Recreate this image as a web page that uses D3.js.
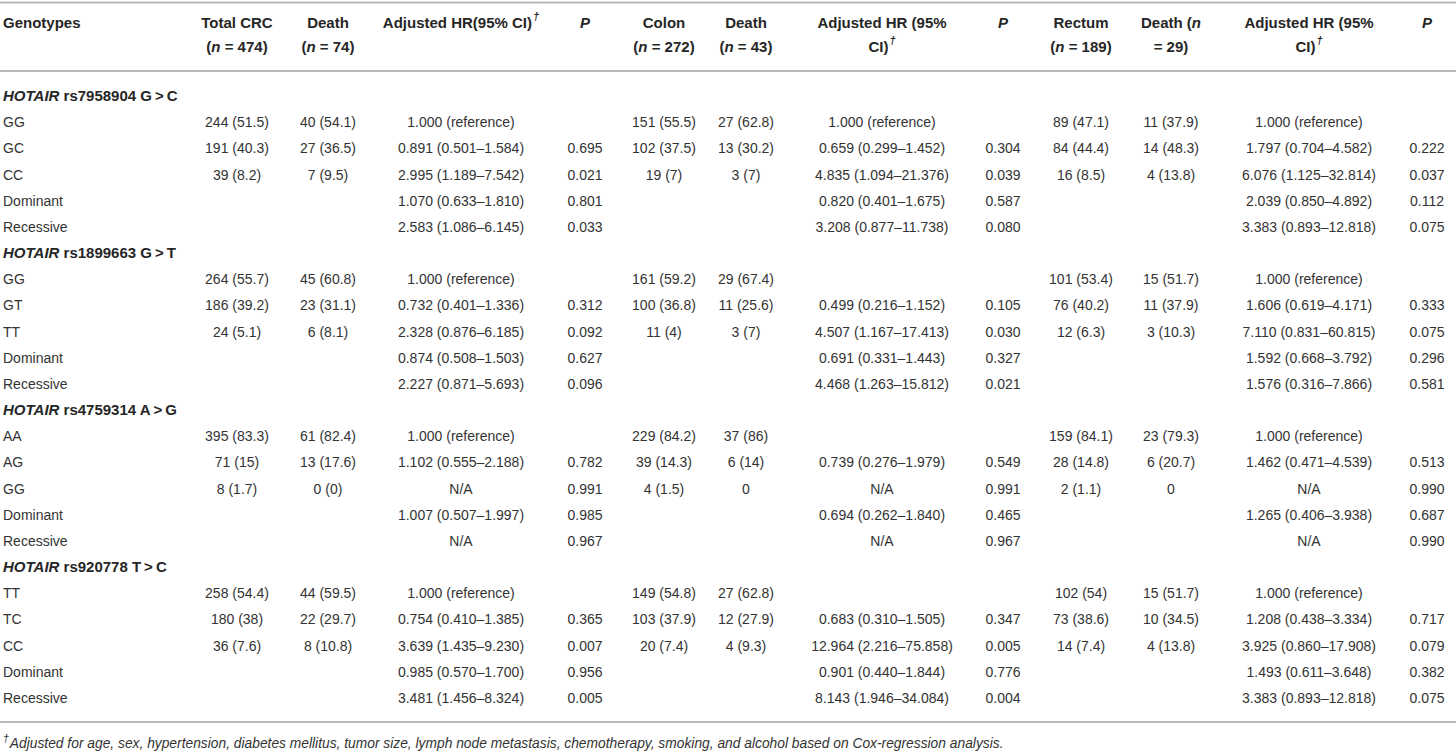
<!DOCTYPE html>
<html lang="en">
<head>
  <meta charset="UTF-8">
  <title>HOTAIR genotypes and CRC survival</title>
  <style>
    body { margin: 0; background: #fff; }
    svg { display: block; }
    text { font-family: "Liberation Sans", Arial, sans-serif; fill: #262626; }
    .hdr { font-weight: bold; font-size: 15px; }
    .cell { font-size: 14px; fill: #333; }
    .sec { font-weight: bold; font-size: 15px; }
    .note { font-style: italic; font-size: 13.8px; fill: #333; }
    .rule { stroke: #b8b8b8; stroke-width: 2px; }
  </style>
</head>
<body>
  <script src="https://d3js.org/d3.v7.min.js"></script>
  <script>
    // ---- data ----
    const sectionGene = "HOTAIR";
    const sectionSnps = ["rs7958904 G\u2009>\u2009C", "rs1899663 G\u2009>\u2009T", "rs4759314 A\u2009>\u2009G", "rs920778 T\u2009>\u2009C"];
    const rowLabels = [
      ["GG", "GC", "CC", "Dominant", "Recessive"],
      ["GG", "GT", "TT", "Dominant", "Recessive"],
      ["AA", "AG", "GG", "Dominant", "Recessive"],
      ["TT", "TC", "CC", "Dominant", "Recessive"]
    ];

    const totalCRC = ["244 (51.5)", "191 (40.3)", "39 (8.2)", "", "",
                      "264 (55.7)", "186 (39.2)", "24 (5.1)", "", "",
                      "395 (83.3)", "71 (15)", "8 (1.7)", "", "",
                      "258 (54.4)", "180 (38)", "36 (7.6)", "", ""];
    const deathAll = ["40 (54.1)", "27 (36.5)", "7 (9.5)", "", "",
                      "45 (60.8)", "23 (31.1)", "6 (8.1)", "", "",
                      "61 (82.4)", "13 (17.6)", "0 (0)", "", "",
                      "44 (59.5)", "22 (29.7)", "8 (10.8)", "", ""];
    const hrAll = ["1.000 (reference)", "0.891 (0.501–1.584)", "2.995 (1.189–7.542)", "1.070 (0.633–1.810)", "2.583 (1.086–6.145)",
                   "1.000 (reference)", "0.732 (0.401–1.336)", "2.328 (0.876–6.185)", "0.874 (0.508–1.503)", "2.227 (0.871–5.693)",
                   "1.000 (reference)", "1.102 (0.555–2.188)", "N/A", "1.007 (0.507–1.997)", "N/A",
                   "1.000 (reference)", "0.754 (0.410–1.385)", "3.639 (1.435–9.230)", "0.985 (0.570–1.700)", "3.481 (1.456–8.324)"];
    const pAll = ["", "0.695", "0.021", "0.801", "0.033",
                  "", "0.312", "0.092", "0.627", "0.096",
                  "", "0.782", "0.991", "0.985", "0.967",
                  "", "0.365", "0.007", "0.956", "0.005"];

    const colon = ["151 (55.5)", "102 (37.5)", "19 (7)", "", "",
                   "161 (59.2)", "100 (36.8)", "11 (4)", "", "",
                   "229 (84.2)", "39 (14.3)", "4 (1.5)", "", "",
                   "149 (54.8)", "103 (37.9)", "20 (7.4)", "", ""];
    const deathColon = ["27 (62.8)", "13 (30.2)", "3 (7)", "", "",
                        "29 (67.4)", "11 (25.6)", "3 (7)", "", "",
                        "37 (86)", "6 (14)", "0", "", "",
                        "27 (62.8)", "12 (27.9)", "4 (9.3)", "", ""];
    const hrColon = ["1.000 (reference)", "0.659 (0.299–1.452)", "4.835 (1.094–21.376)", "0.820 (0.401–1.675)", "3.208 (0.877–11.738)",
                     "", "0.499 (0.216–1.152)", "4.507 (1.167–17.413)", "0.691 (0.331–1.443)", "4.468 (1.263–15.812)",
                     "", "0.739 (0.276–1.979)", "N/A", "0.694 (0.262–1.840)", "N/A",
                     "", "0.683 (0.310–1.505)", "12.964 (2.216–75.858)", "0.901 (0.440–1.844)", "8.143 (1.946–34.084)"];
    const pColon = ["", "0.304", "0.039", "0.587", "0.080",
                    "", "0.105", "0.030", "0.327", "0.021",
                    "", "0.549", "0.991", "0.465", "0.967",
                    "", "0.347", "0.005", "0.776", "0.004"];

    const rectum = ["89 (47.1)", "84 (44.4)", "16 (8.5)", "", "",
                    "101 (53.4)", "76 (40.2)", "12 (6.3)", "", "",
                    "159 (84.1)", "28 (14.8)", "2 (1.1)", "", "",
                    "102 (54)", "73 (38.6)", "14 (7.4)", "", ""];
    const deathRectum = ["11 (37.9)", "14 (48.3)", "4 (13.8)", "", "",
                         "15 (51.7)", "11 (37.9)", "3 (10.3)", "", "",
                         "23 (79.3)", "6 (20.7)", "0", "", "",
                         "15 (51.7)", "10 (34.5)", "4 (13.8)", "", ""];
    const hrRectum = ["1.000 (reference)", "1.797 (0.704–4.582)", "6.076 (1.125–32.814)", "2.039 (0.850–4.892)", "3.383 (0.893–12.818)",
                      "1.000 (reference)", "1.606 (0.619–4.171)", "7.110 (0.831–60.815)", "1.592 (0.668–3.792)", "1.576 (0.316–7.866)",
                      "1.000 (reference)", "1.462 (0.471–4.539)", "N/A", "1.265 (0.406–3.938)", "N/A",
                      "1.000 (reference)", "1.208 (0.438–3.334)", "3.925 (0.860–17.908)", "1.493 (0.611–3.648)", "3.383 (0.893–12.818)"];
    const pRectum = ["", "0.222", "0.037", "0.112", "0.075",
                     "", "0.333", "0.075", "0.296", "0.581",
                     "", "0.513", "0.990", "0.687", "0.990",
                     "", "0.717", "0.079", "0.382", "0.075"];

    // header lines: segments [text, style] (1 = italic, 2 = superscript dagger)
    const headers = [
      [[["Total CRC"]], [["("], ["n", 1], [" = 474)"]]],
      [[["Death"]], [["("], ["n", 1], [" = 74)"]]],
      [[["Adjusted HR(95% CI)"], ["†", 2]]],
      [[["P", 1]]],
      [[["Colon"]], [["("], ["n", 1], [" = 272)"]]],
      [[["Death"]], [["("], ["n", 1], [" = 43)"]]],
      [[["Adjusted HR (95%"]], [["CI)"], ["†", 2]]],
      [[["P", 1]]],
      [[["Rectum"]], [["("], ["n", 1], [" = 189)"]]],
      [[["Death ("], ["n", 1]], [["= 29)"]]],
      [[["Adjusted HR (95%"]], [["CI)"], ["†", 2]]],
      [[["P", 1]]]
    ];
    const columns = [totalCRC, deathAll, hrAll, pAll, colon, deathColon, hrColon, pColon,
                     rectum, deathRectum, hrRectum, pRectum];
    const footnote = "Adjusted for age, sex, hypertension, diabetes mellitus, tumor size, lymph node metastasis, chemotherapy, smoking, and alcohol based on Cox-regression analysis.";

    // ---- layout ----
    const width = 1456, height = 753;
    const svg = d3.select("body").append("svg").attr("width", width).attr("height", height);

    const colX = d3.scaleOrdinal()
      .domain(d3.range(columns.length))
      .range([237, 328, 461, 585, 664, 746, 882, 1003, 1081, 1171, 1309, 1427]);

    const totalRows = sectionSnps.length * 6;
    const rowY = d3.scaleLinear().domain([0, totalRows - 1]).range([96, 698]);
    const base = 5; // centre -> baseline

    // rules
    [2.5, 71, 722].forEach(y => {
      svg.append("line").attr("class", "rule")
        .attr("x1", 0).attr("x2", width).attr("y1", y).attr("y2", y);
    });

    const addSegs = (sel, segs) => {
      segs.forEach(([t, st]) => {
        const ts = sel.append("tspan").text(t);
        if (st === 1) ts.style("font-style", "italic");
        if (st === 2) ts.style("font-style", "italic").attr("dy", -8).style("font-size", "11px").attr("dx", 1);
      });
    };

    // header
    svg.append("text").attr("class", "hdr").attr("x", 3).attr("y", 23 + base).text("Genotypes");
    headers.forEach((lines, c) => {
      lines.forEach((segs, li) => {
        const t = svg.append("text").attr("class", "hdr")
          .attr("x", colX(c)).attr("y", 23 + li * 24 + base)
          .attr("text-anchor", "middle");
        addSegs(t, segs);
      });
    });

    // body
    const body = svg.append("g");
    sectionSnps.forEach((snp, s) => {
      const r0 = s * 6;
      const st = body.append("text").attr("class", "sec")
        .attr("x", 3).attr("y", rowY(r0) + base);
      st.append("tspan").style("font-style", "italic").text(sectionGene);
      st.append("tspan").text(" " + snp);

      rowLabels[s].forEach((lab, k) => {
        const y = rowY(r0 + 1 + k) + base;
        const di = s * 5 + k;
        body.append("text").attr("class", "cell").attr("x", 3).attr("y", y).text(lab);
        columns.forEach((col, c) => {
          if (!col[di]) return;
          body.append("text").attr("class", "cell")
            .attr("x", colX(c)).attr("y", y)
            .attr("text-anchor", "middle").text(col[di]);
        });
      });
    });

    // footnote
    const fn = svg.append("text").attr("class", "note").attr("x", 3).attr("y", 743 + 5);
    fn.append("tspan").text("†").attr("dy", -6).style("font-size", "10.5px");
    fn.append("tspan").text(footnote).attr("dy", 6).attr("dx", 1);
  </script>
</body>
</html>
